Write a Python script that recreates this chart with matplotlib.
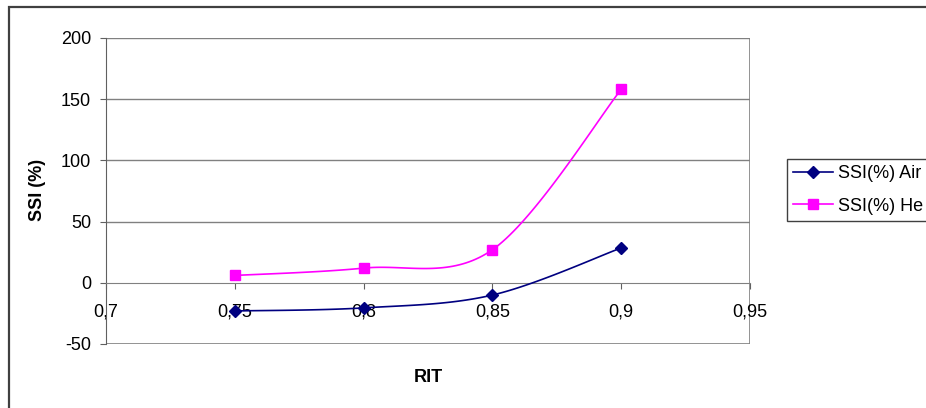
import numpy as np
import matplotlib
matplotlib.use('Agg')
import matplotlib.pyplot as plt
from matplotlib.patches import Rectangle

plt.rcParams['font.family'] = ['Liberation Sans', 'DejaVu Sans']
plt.rcParams['axes.unicode_minus'] = False

rit = [0.75, 0.8, 0.85, 0.9]
ssi_air = [-23, -20.5, -10, 28.5]
ssi_he = [6, 12, 27, 158]
series_labels = ['SSI(%) Air', 'SSI(%) He']
xticks = [0.7, 0.75, 0.8, 0.85, 0.9, 0.95]
xtick_labels = ['0,7', '0,75', '0,8', '0,85', '0,9', '0,95']
yticks = [-50, 0, 50, 100, 150, 200]


def smooth(xs, ys, n=40):
    # excel style smoothed line (bezier through the points)
    pts = np.column_stack([xs, ys]).astype(float)
    t = np.linspace(0, 1, n)[:, None]
    segs = []
    for i in range(len(pts) - 1):
        p0 = pts[max(i - 1, 0)]
        p1 = pts[i]
        p2 = pts[i + 1]
        p3 = pts[min(i + 2, len(pts) - 1)]
        c1 = p1 + (p2 - p0) / 6
        c2 = p2 - (p3 - p1) / 6
        segs.append((1 - t)**3 * p1 + 3 * (1 - t)**2 * t * c1 + 3 * (1 - t) * t**2 * c2 + t**3 * p2)
    out = np.vstack(segs)
    return out[:, 0], out[:, 1]


W, H = 926, 408
fig = plt.figure(figsize=(W / 100, H / 100), dpi=100)
ax = fig.add_axes([106 / W, 1 - 344 / H, (750 - 106) / W, (344 - 38) / H])

# outer chart border
fig.patches.append(Rectangle((8.5 / W, -0.1), 1.2, (H - 6.5) / H + 0.1, transform=fig.transFigure,
                             fill=False, edgecolor='#404040', linewidth=1.6))

ax.set_xlim(0.7, 0.95)
ax.set_ylim(-50, 200)

for y in [50, 100, 150, 200]:
    ax.axhline(y, color='#808080', linewidth=1, zorder=1)
ax.add_patch(Rectangle((0, 0), 1, 1, transform=ax.transAxes, fill=False,
                       edgecolor='#808080', linewidth=1.2, zorder=1))

for s in ['top', 'right']:
    ax.spines[s].set_visible(False)
ax.spines['left'].set_color('#606060')
ax.spines['bottom'].set_position(('data', 0))
ax.spines['bottom'].set_color('#808080')

x, y = smooth(rit, ssi_air)
ax.plot(x, y, color='#000080', linewidth=1.2, zorder=3)
x, y = smooth(rit, ssi_he)
ax.plot(x, y, color='#FF00FF', linewidth=1.2, zorder=3)
ax.plot(rit, ssi_air, linestyle='none', marker='D', markersize=6.5, color='#000080', zorder=4)
ax.plot(rit, ssi_he, linestyle='none', marker='s', markersize=6.5, color='#FF00FF', zorder=4)

ax.set_xticks(xticks)
ax.set_xticklabels(xtick_labels)
ax.set_yticks(yticks)
ax.tick_params(axis='x', direction='out', length=4.3, pad=10.5, labelsize=13, color='#606060')
ax.tick_params(axis='y', direction='out', length=4.3, pad=6.5, labelsize=13, color='#606060')

fig.text(38 / W, 1 - 190 / H, 'SSI (%)', rotation=90, ha='center', va='center',
         fontsize=13, fontweight='bold')
fig.text(428 / W, 1 - 377 / H, 'RIT', ha='center', va='center', fontsize=13, fontweight='bold')

h1 = plt.Line2D([], [], color='#000080', marker='D', markersize=6.5, linewidth=1.2)
h2 = plt.Line2D([], [], color='#FF00FF', marker='s', markersize=6.5, linewidth=1.2)
leg = fig.legend([h1, h2], series_labels, loc='lower left',
                 bbox_to_anchor=(787 / W, 1 - 221 / H, 0.3, 60 / H), mode='expand',
                 fontsize=13, fancybox=False, framealpha=1, edgecolor='#404040',
                 handlelength=2.2, handletextpad=0.3, borderpad=0.35, labelspacing=0.85,
                 borderaxespad=0)
leg.get_frame().set_linewidth(1.0)

fig.savefig('out.png', dpi=100)
